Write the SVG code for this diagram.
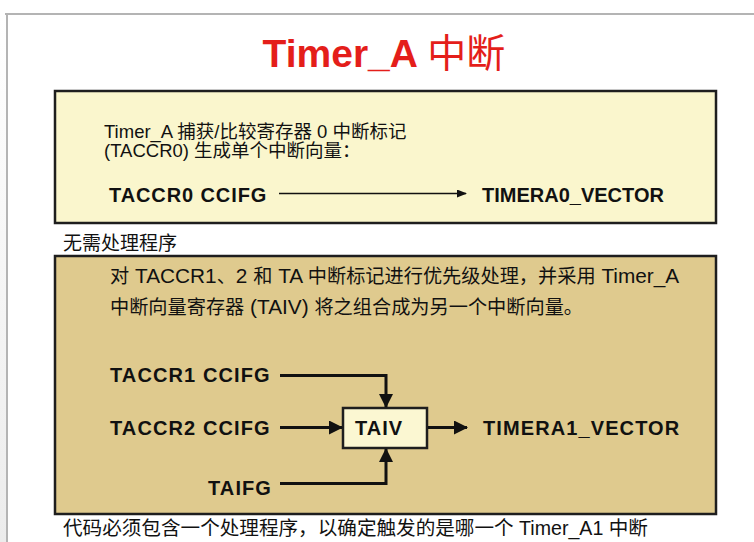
<svg xmlns="http://www.w3.org/2000/svg" width="754" height="542" viewBox="0 0 754 542">
  <defs>
    <style>
      .t { font-family: "Liberation Sans", "Noto Sans CJK SC", sans-serif; fill: #111; }
      .b { font-weight: bold; }
      .la { font-size: 20.8px; }
      .box { stroke: #1e1e1e; stroke-width: 2.5; }
      .thin { stroke: #111; stroke-width: 1.5; fill: none; }
      .thick { stroke: #111; stroke-width: 3; fill: none; }
    </style>
    <marker id="ahs" markerWidth="10" markerHeight="8" refX="9" refY="4" orient="auto" markerUnits="userSpaceOnUse">
      <path d="M0,0 L10,4 L0,8 Z" fill="#111"/>
    </marker>
    <marker id="ahb" markerWidth="14" markerHeight="14" refX="13" refY="7" orient="auto" markerUnits="userSpaceOnUse">
      <path d="M0,0 L14,7 L0,14 Z" fill="#111"/>
    </marker>
    <linearGradient id="side" x1="0" y1="0" x2="0" y2="1">
      <stop offset="0" stop-color="#ffffff"/>
      <stop offset="1" stop-color="#ececec"/>
    </linearGradient>
  </defs>

  <rect x="0" y="0" width="754" height="542" fill="#ffffff"/>
  <rect x="0" y="14" width="7" height="528" fill="url(#side)"/>
  <path d="M5,14 H754 M7,14 V542" stroke="#b4b4b4" stroke-width="2" fill="none"/>

  <text class="t b" x="384" y="67" text-anchor="middle" font-size="39" style="fill:#e41e1a">Timer_A <tspan font-weight="normal">中断</tspan></text>

  <g id="box-top">
    <rect class="box" x="55" y="91" width="661" height="132" fill="#faf6cd"/>
    <text class="t" x="104" y="137.5" font-size="18.5">Timer_A 捕获/比较寄存器 0 中断标记</text>
    <text class="t" x="104" y="157" font-size="18.5">(TACCR0) 生成单个中断向量：</text>
  </g>
  <g id="n-taccr0">
    <text class="t b" x="109" y="202" font-size="20" letter-spacing="0.9">TACCR0 CCIFG</text>
  </g>
  <g id="n-timera0">
    <text class="t b" x="482" y="202" font-size="20">TIMERA0_VECTOR</text>
  </g>

  <text class="t" x="63" y="250" font-size="19">无需处理程序</text>

  <g id="box-bottom">
    <rect class="box" x="55" y="256" width="661" height="258" fill="#dfca8e"/>
    <text class="t" x="110" y="283" font-size="19.2">对<tspan class="la"> TACCR1</tspan>、<tspan class="la">2 </tspan>和<tspan class="la"> TA </tspan>中断标记进行优先级处理，并采用<tspan class="la"> Timer_A</tspan></text>
    <text class="t" x="110" y="314" font-size="19.2">中断向量寄存器<tspan class="la"> (TAIV) </tspan>将之组合成为另一个中断向量。</text>
  </g>
  <g id="n-taccr1">
    <text class="t b" x="110" y="382" font-size="20" letter-spacing="1.1">TACCR1 CCIFG</text>
  </g>
  <g id="n-taccr2">
    <text class="t b" x="110" y="435" font-size="20" letter-spacing="1.1">TACCR2 CCIFG</text>
  </g>
  <g id="n-taifg">
    <text class="t b" x="208" y="495" font-size="20" letter-spacing="1.1">TAIFG</text>
  </g>
  <g id="n-taiv">
    <rect class="box" x="343" y="408" width="84" height="40" fill="#fbf7d2"/>
    <text class="t b" x="355" y="435" font-size="20" letter-spacing="1">TAIV</text>
  </g>
  <g id="n-timera1">
    <text class="t b" x="483" y="435" font-size="20" letter-spacing="1.1">TIMERA1_VECTOR</text>
  </g>

  <text class="t" x="63" y="535" font-size="19.6">代码必须包含一个处理程序，以确定触发的是哪一个 Timer_A1 中断</text>

  <g id="connectors">
    <path class="thin" d="M279,193.5 H466" marker-end="url(#ahs)"/>
    <path class="thick" d="M280,375.5 H386 V407" marker-end="url(#ahb)"/>
    <path class="thick" d="M280,427.5 H342" marker-end="url(#ahb)"/>
    <path class="thick" d="M280,483.5 H386 V449" marker-end="url(#ahb)"/>
    <path class="thick" d="M428,427.5 H467" marker-end="url(#ahb)"/>
  </g>
</svg>
